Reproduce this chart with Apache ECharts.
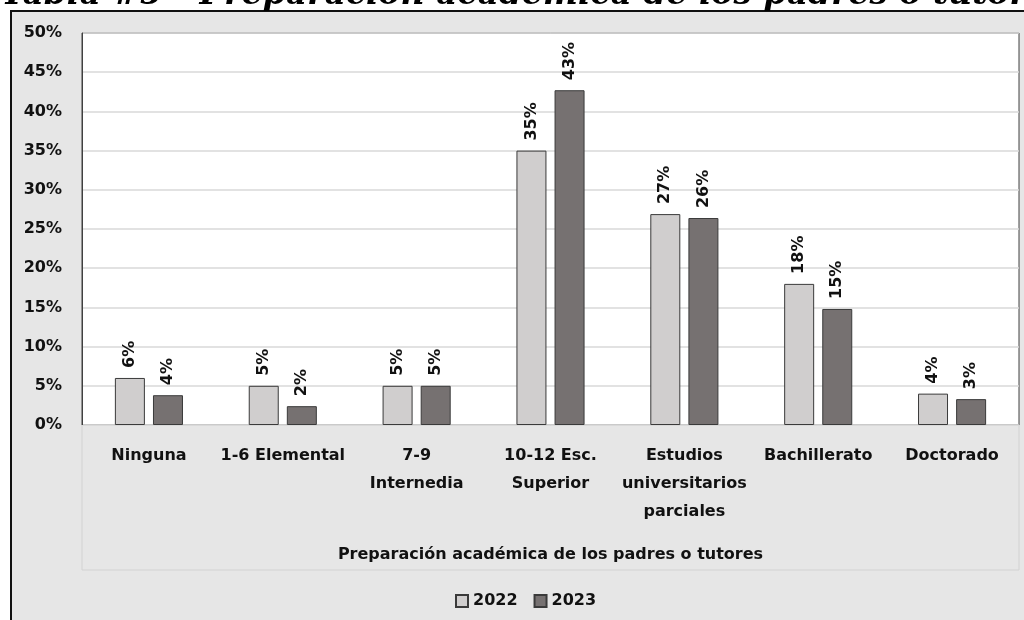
<!DOCTYPE html>
<html>
<head>
<meta charset="utf-8">
<script src="https://cdn.jsdelivr.net/npm/echarts@6/dist/echarts.min.js"></script>
<style>
  html, body { margin: 0; padding: 0; background: #fff; }
  #chart { width: 1024px; height: 620px; }
</style>
</head>
<body>
<div id="chart"></div>
<script>
// Preparación académica de los padres o tutores, 2022 vs 2023 (en %)
var categories = [
  'Ninguna',
  '1-6 Elemental',
  '7-9\nInternedia',
  '10-12 Esc.\nSuperior',
  'Estudios\nuniversitarios\nparciales',
  'Bachillerato',
  'Doctorado'
];
var years = ['2022', '2023'];
var values2022 = [6.0, 5.0, 5.0, 35.0, 26.9, 18.0, 4.0];
var values2023 = [3.8, 2.4, 5.0, 42.7, 26.4, 14.8, 3.3];
var yTicks = { min: 0, max: 50, step: 5 };

var FONT = '"DejaVu Sans", sans-serif';
var TXT = '#111';

var chart = echarts.init(document.getElementById('chart'));

function barSeries(name, data, color) {
  return {
    name: name,
    type: 'bar',
    data: data,
    barWidth: 30,
    barGap: '27%',
    itemStyle: { color: color, borderColor: '#3a3a3a', borderWidth: 1 },
    label: {
      show: true,
      position: 'top',
      rotate: 90,
      align: 'left',
      verticalAlign: 'middle',
      distance: 10,
      fontFamily: FONT,
      fontWeight: 'bold',
      fontSize: 16,
      color: TXT,
      formatter: function (p) { return Math.round(p.value) + '%'; }
    }
  };
}

var option = {
  backgroundColor: '#fff',
  animation: false,
  title: {
    text: 'Tabla #5 - Preparación académica de los padres o tutores',
    left: -4,
    top: -26,
    z: 20,
    textStyle: {
      fontFamily: '"DejaVu Serif", serif',
      fontStyle: 'italic',
      fontWeight: 'bold',
      fontSize: 33,
      color: '#000'
    }
  },
  graphic: [
    {
      type: 'rect',
      z: -10,
      shape: { x: 11, y: 11, width: 1040, height: 640 },
      style: { fill: '#e6e6e6', stroke: '#111', lineWidth: 2 }
    },
    {
      type: 'rect',
      z: -5,
      shape: { x: 82, y: 425, width: 937, height: 145 },
      style: { fill: 'none', stroke: '#d2d2d2', lineWidth: 1 }
    }
  ],
  grid: {
    left: 82,
    right: 5,
    top: 33,
    bottom: 195,
    show: true,
    backgroundColor: '#fff',
    borderColor: '#404040',
    borderWidth: 1
  },
  legend: {
    data: years,
    left: 450,
    top: 588,
    itemWidth: 12,
    itemHeight: 12,
    itemGap: 16,
    icon: 'rect',
    textStyle: { fontFamily: FONT, fontWeight: 'bold', fontSize: 16, color: TXT }
  },
  xAxis: {
    type: 'category',
    data: categories,
    name: 'Preparación académica de los padres o tutores',
    nameLocation: 'middle',
    nameGap: 122,
    nameTextStyle: { fontFamily: FONT, fontWeight: 'bold', fontSize: 16, color: TXT },
    axisTick: { show: false },
    axisLine: { lineStyle: { color: '#d9d9d9', width: 1 } },
    axisLabel: {
      interval: 0,
      margin: 17,
      lineHeight: 28,
      fontFamily: FONT,
      fontWeight: 'bold',
      fontSize: 16,
      color: TXT
    }
  },
  yAxis: {
    type: 'value',
    min: yTicks.min,
    max: yTicks.max,
    interval: yTicks.step,
    axisLine: { show: true, lineStyle: { color: '#404040' } },
    axisTick: { show: false },
    splitLine: { lineStyle: { color: '#d9d9d9', width: 1.5 } },
    axisLabel: {
      margin: 20,
      fontFamily: FONT,
      fontWeight: 'bold',
      fontSize: 16,
      color: TXT,
      formatter: '{value}%'
    }
  },
  series: [
    barSeries('2022', values2022, '#d0cece'),
    barSeries('2023', values2023, '#767171')
  ]
};

chart.setOption(option);
</script>
</body>
</html>
